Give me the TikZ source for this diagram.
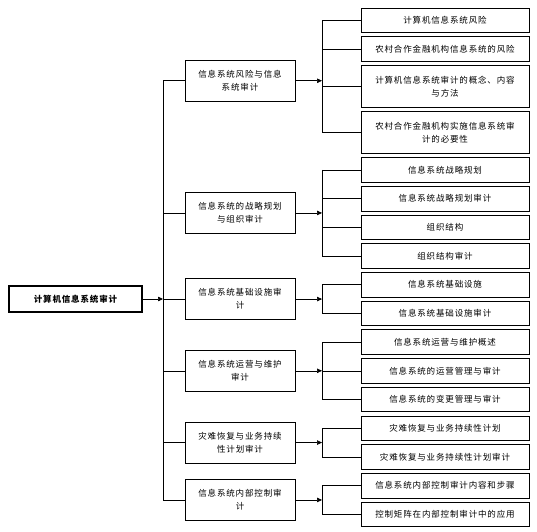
\documentclass[tikz,border=0pt]{standalone}
\usepackage{fontspec}
\newfontfamily\cjk[LetterSpace=10]{Noto Sans CJK SC}
\usepackage{xcolor}
\usepackage{tikz}
\usetikzlibrary{calc}
\usetikzlibrary{positioning}
\usetikzlibrary{arrows.meta}

\begin{document}
\begin{tikzpicture}[x=1pt,y=-1pt,node distance=3.4pt]
  \tikzset{every node/.style={font=\cjk\fontsize{8.5}{13}\selectfont,text centered,align=center,inner sep=0pt}};
  \tikzset{leaf/.style={draw,line width=0.7pt,minimum width=168pt,minimum height=24.6pt}};
  \tikzset{leafii/.style={leaf,minimum height=42pt}};
  \tikzset{midbox/.style={draw,line width=0.7pt,minimum width=110pt,minimum height=41pt}};
  \tikzset{rootbox/.style={draw,line width=1.4pt,minimum width=133pt,minimum height=26pt,font=\cjk\bfseries\fontsize{8.5}{13}\selectfont}};
  \tikzset{link/.style={line width=0.6pt}};
  \tikzset{feed/.style={link,-{Triangle[length=5pt,width=4.5pt]}}};
  \useasboundingbox (0,0) rectangle (537,531);
  \coordinate (trunk) at (163,0);
  \coordinate (bus) at (322,0);
  % leaves
  \node [leaf] (l1) at (445,20.3) {计算机信息系统风险};
  \node [leaf, below=of l1] (l2) {农村合作金融机构信息系统的风险};
  \node [leafii, below=of l2] (l3) {计算机信息系统审计的概念、内容\\与方法};
  \node [leafii, below=of l3] (l4) {农村合作金融机构实施信息系统审\\计的必要性};
  \node [leaf, below=of l4] (l5) {信息系统战略规划};
  \node [leaf, below=of l5] (l6) {信息系统战略规划审计};
  \node [leaf, below=of l6] (l7) {组织结构};
  \node [leaf, below=of l7] (l8) {组织结构审计};
  \node [leaf, below=of l8] (l9) {信息系统基础设施};
  \node [leaf, below=of l9] (l10) {信息系统基础设施审计};
  \node [leaf, below=of l10] (l11) {信息系统运营与维护概述};
  \node [leaf, below=of l11] (l12) {信息系统的运营管理与审计};
  \node [leaf, below=of l12] (l13) {信息系统的变更管理与审计};
  \node [leaf, below=of l13] (l14) {灾难恢复与业务持续性计划};
  \node [leaf, below=of l14] (l15) {灾难恢复与业务持续性计划审计};
  \node [leaf, below=of l15] (l16) {信息系统内部控制审计内容和步骤};
  \node [leaf, below=of l16] (l17) {控制矩阵在内部控制审计中的应用};
  % chapters
  \node [midbox] (m1) at ($(l1.north)!0.5!(l4.south)-(205,0)$) {信息系统风险与信息\\系统审计};
  \node [midbox] (m2) at ($(l5.north)!0.5!(l8.south)-(205,0)$) {信息系统的战略规划\\与组织审计};
  \node [midbox] (m3) at ($(l9.north)!0.5!(l10.south)-(205,0)$) {信息系统基础设施审\\计};
  \node [midbox] (m4) at ($(l11.north)!0.5!(l13.south)-(205,0)$) {信息系统运营与维护\\审计};
  \node [midbox] (m5) at ($(l14.north)!0.5!(l15.south)-(205,0)$) {灾难恢复与业务持续\\性计划审计};
  \node [midbox] (m6) at ($(l16.north)!0.5!(l17.south)-(205,0)$) {信息系统内部控制审\\计};
  \node [rootbox] (root) at (75.5,299) {计算机信息系统审计};
  % trunk
  \draw[feed] (root.east) -- (root.east -| trunk);
  \draw[link] (m1.west -| trunk) -- (m6.west -| trunk);
  \foreach \m in {m1,m2,m3,m4,m5,m6}
    \draw[link] (\m.west -| trunk) -- (\m.west);
  % branches
  \foreach \m/\a/\b/\all in {m1/l1/l4/{l1,l2,l3,l4}, m2/l5/l8/{l5,l6,l7,l8}, m3/l9/l10/{l9,l10},
      m4/l11/l13/{l11,l12,l13}, m5/l14/l15/{l14,l15}, m6/l16/l17/{l16,l17}} {
    \draw[feed] (\m.east) -- (\m.east -| bus);
    \draw[link] (\a.west -| bus) -- (\b.west -| bus);
    \foreach \l in \all
      \draw[link] (\l.west -| bus) -- (\l.west);
  }
\end{tikzpicture}
\end{document}
